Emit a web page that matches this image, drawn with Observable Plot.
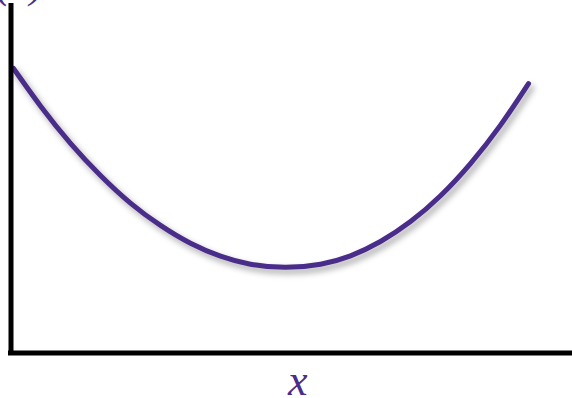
<!DOCTYPE html>
<html>
<head>
<meta charset="utf-8">
<script src="https://cdn.jsdelivr.net/npm/d3@7"></script>
<script src="https://cdn.jsdelivr.net/npm/@observablehq/plot@0.6"></script>
<style>
  html, body { margin: 0; padding: 0; background: #fff; overflow: hidden; }
</style>
</head>
<body>
<div id="chart"></div>
<script>
// Curve points (arbitrary units, axes from 0 to 10)
const xs = [0.045, 0.525, 1.06, 1.594, 2.128, 2.663, 3.197, 3.731, 4.266, 4.889, 5.512, 6.046, 6.58, 7.115, 7.649, 8.183, 8.718, 9.217];
const ys = [8.14, 7.07, 6.00, 5.08, 4.29, 3.65, 3.14, 2.77, 2.54, 2.45, 2.54, 2.78, 3.19, 3.76, 4.50, 5.42, 6.52, 7.71];
const xLabel = "x";
const yLabel = "f(x)";

const curve = xs.map((x, i) => ({x, y: ys[i]}));
const purple = "#4a2d8a";

const chart = Plot.plot({
  width: 572,
  height: 398,
  marginLeft: 10.5,
  marginRight: 0,
  marginTop: 3,
  marginBottom: 45.5,
  x: {domain: [0, 10], axis: null},
  y: {domain: [0, 10], axis: null},
  marks: [
    Plot.line(curve, {x: "x", y: "y", curve: "natural", stroke: purple, strokeWidth: 5}),
    Plot.ruleX([0], {stroke: "black", strokeWidth: 5}),
    Plot.ruleY([0], {stroke: "black", strokeWidth: 5, strokeLinecap: "square"}),
    Plot.text([xLabel], {text: d => d, frameAnchor: "bottom", dx: 6, dy: 28, lineAnchor: "middle",
      fontSize: 44, fontStyle: "italic", fontFamily: "Liberation Serif, DejaVu Serif, serif", fill: purple}),
    Plot.text([yLabel], {text: d => d, frameAnchor: "top-left", textAnchor: "end", dx: 33.5, dy: -21, lineAnchor: "middle",
      fontSize: 44, fontStyle: "italic", fontFamily: "Liberation Serif, DejaVu Serif, serif", fill: purple})
  ]
});
d3.select(chart).style("overflow", "visible");
d3.select(chart).selectAll('g[aria-label="line"] path').style("filter", "drop-shadow(3px 4px 3px rgba(0,0,0,0.35))");
document.getElementById("chart").appendChild(chart);
</script>
</body>
</html>
